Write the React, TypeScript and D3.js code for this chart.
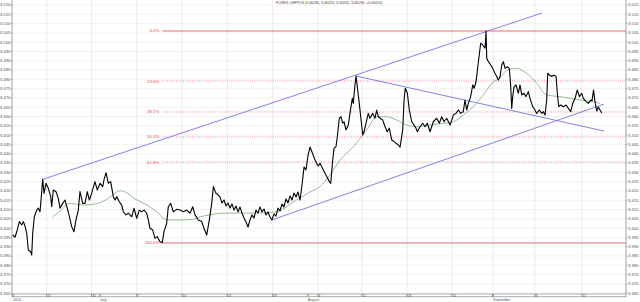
import React from 'react';
import * as d3 from 'd3';

// ---- data (x in trading days from Mon 23 Jun 2014, y in CHF/PLN) ----
const price: [number, number][] = [
  [-3.81,3.3963],[-3.55,3.3951],[-3.30,3.3990],[-3.07,3.4035],[-2.80,3.4017],[-2.62,3.4035],[-2.43,3.4011],[-2.24,3.3972],[-2.06,3.3882],[-1.79,3.3873],[-1.68,3.3855],[-1.57,3.3972],[-1.39,3.4061],[-1.12,3.4097],[-0.94,3.4107],[-0.75,3.4088],[-0.56,3.4196],[-0.45,3.4262],[-0.30,3.4187],[-0.08,3.4241],[0.18,3.4214],[0.45,3.4169],[0.56,3.4115],[0.74,3.4205],[1.04,3.4196],[1.30,3.4160],[1.49,3.4107],[1.79,3.4133],[2.05,3.4151],[2.42,3.4088],[2.80,3.4008],[3.06,3.3981],[3.28,3.4044],[3.54,3.4097],[3.73,3.4196],[4.04,3.4133],[4.29,3.4133],[4.55,3.4196],[4.78,3.4151],[5.04,3.4187],[5.41,3.4250],[5.67,3.4205],[5.98,3.4241],[6.28,3.4223],[6.42,3.4259],[6.65,3.4298],[6.91,3.4241],[7.17,3.4250],[7.47,3.4169],[7.66,3.4151],[7.85,3.4169],[8.14,3.4142],[8.41,3.4124],[8.59,3.4088],[8.89,3.4071],[9.15,3.4080],[9.53,3.4061],[9.79,3.4107],[10.09,3.4053],[10.38,3.4097],[10.65,3.4088],[10.91,3.4097],[11.21,3.4080],[11.39,3.4044],[11.58,3.3999],[11.88,3.3990],[12.14,3.3945],[12.40,3.3954],[12.70,3.3927],[12.96,3.3922],[13.15,3.3981],[13.45,3.4026],[13.63,3.4115],[13.90,3.4133],[14.19,3.4088],[14.57,3.4101],[14.94,3.4097],[15.31,3.4088],[15.70,3.4097],[16.07,3.4080],[16.37,3.4115],[16.63,3.4071],[17.00,3.4044],[17.38,3.4035],[17.63,3.3999],[17.94,3.3963],[18.23,3.4044],[18.50,3.4133],[18.68,3.4223],[18.98,3.4187],[19.24,3.4178],
  [19.43,3.4167],[19.65,3.4135],[19.88,3.4151],[20.10,3.4119],[20.32,3.4135],[20.55,3.4108],[20.77,3.4130],[21.00,3.4097],[21.22,3.4119],[21.45,3.4087],[21.67,3.4114],[21.89,3.4081],[22.12,3.4054],[22.34,3.4033],[22.57,3.4006],[22.79,3.4044],[23.01,3.4071],[23.24,3.4054],[23.46,3.4097],[23.69,3.4081],[23.91,3.4114],[24.13,3.4087],[24.36,3.4103],[24.58,3.4071],[24.81,3.4087],[25.03,3.4060],[25.25,3.4044],[25.48,3.4076],[25.70,3.4065],[25.93,3.4108],[26.15,3.4092],[26.38,3.4130],[26.60,3.4114],[26.83,3.4157],[27.05,3.4135],[27.28,3.4173],[27.50,3.4151],[27.72,3.4189],[27.95,3.4167],[28.17,3.4194],[28.40,3.4151],[28.62,3.4232],[28.85,3.4329],[29.07,3.4313],[29.30,3.4393],[29.52,3.4436],[29.74,3.4409],[30.08,3.4366],[30.42,3.4334],
  [30.64,3.4349],[31.01,3.4313],[31.39,3.4277],[31.68,3.4250],[31.84,3.4241],[32.06,3.4366],[32.21,3.4429],[32.43,3.4438],[32.58,3.4492],[32.80,3.4591],[32.99,3.4599],[33.18,3.4564],[33.33,3.4572],[33.55,3.4528],[33.81,3.4554],[34.08,3.4644],[34.26,3.4698],[34.37,3.4671],[34.56,3.4770],[34.68,3.4818],[34.82,3.4760],[35.04,3.4671],[35.20,3.4599],[35.43,3.4501],[35.57,3.4518],[35.80,3.4564],[36.05,3.4617],[36.24,3.4591],[36.55,3.4617],[36.80,3.4591],[36.99,3.4635],[37.17,3.4599],[37.37,3.4591],[37.67,3.4581],[37.93,3.4545],[38.18,3.4518],[38.41,3.4537],[38.68,3.4474],[38.94,3.4465],[39.16,3.4456],[39.42,3.4447],[39.61,3.4435],[39.91,3.4528],[40.06,3.4689],[40.20,3.4752],[40.43,3.4725],[40.65,3.4635],[40.92,3.4572],[41.18,3.4554],[41.40,3.4537],[41.55,3.4518],[41.85,3.4545],[42.15,3.4564],[42.41,3.4545],[42.67,3.4564],[42.97,3.4518],[43.34,3.4572],[43.72,3.4591],[44.01,3.4564],[44.28,3.4599],[44.54,3.4572],[44.84,3.4591],[45.21,3.4554],[45.40,3.4581],[45.58,3.4608],[45.88,3.4617],[46.14,3.4635],[46.41,3.4617],[46.70,3.4626],[46.89,3.4689],[47.08,3.4635],[47.26,3.4671],[47.53,3.4707],[47.76,3.4770],[47.91,3.4752],[48.13,3.4787],[48.39,3.4893],[48.65,3.4994],[48.88,3.4985],[49.14,3.4967],[49.25,3.5060],[49.33,3.4913],[49.51,3.4895],[49.78,3.4877],[50.00,3.4859],[50.26,3.4832],[50.45,3.4815],[50.63,3.4796],[50.82,3.4815],[51.01,3.4877],[51.19,3.4895],[51.38,3.4859],[51.64,3.4868],[51.86,3.4859],[52.02,3.4760],[52.13,3.4644],[52.24,3.4707],[52.39,3.4760],[52.61,3.4770],[52.87,3.4725],[53.06,3.4770],[53.25,3.4716],[53.51,3.4725],[53.73,3.4707],[53.99,3.4734],[54.18,3.4698],[54.48,3.4653],[54.74,3.4635],[54.93,3.4617],[55.22,3.4635],[55.49,3.4617],[55.67,3.4626],[55.86,3.4608],[56.05,3.4689],[56.17,3.4833],[56.35,3.4823],[56.61,3.4815],[56.87,3.4823],[57.10,3.4815],[57.24,3.4725],[57.40,3.4653],[57.62,3.4662],[57.91,3.4653],[58.22,3.4662],[58.48,3.4644],[58.74,3.4626],[58.97,3.4671],[59.23,3.4698],[59.48,3.4743],[59.71,3.4707],[59.98,3.4725],[60.16,3.4698],[60.46,3.4680],[60.72,3.4671],[60.99,3.4689],[61.13,3.4684],[61.30,3.4743],[61.47,3.4678],[61.66,3.4630],[61.84,3.4651],[62.03,3.4635],[62.22,3.4619]
];

const movingAvg: [number, number][] = [
  [0.67,3.4061],[1.49,3.4092],[2.61,3.4133],[4.10,3.4124],[5.98,3.4137],[7.10,3.4167],[8.22,3.4201],[9.00,3.4189],[9.90,3.4157],[11.02,3.4130],[12.33,3.4088],[13.45,3.4044],[14.94,3.4044],[16.43,3.4047],[17.19,3.4061],[18.31,3.4071],[19.43,3.4080],[21.67,3.4081],[23.91,3.4081],[25.59,3.4087],[26.71,3.4108],[27.61,3.4140],[28.40,3.4162],[29.52,3.4194],[30.64,3.4223],[31.76,3.4286],[32.88,3.4366],[34.37,3.4438],[35.87,3.4528],[36.99,3.4599],[38.12,3.4599],[39.24,3.4581],[40.36,3.4554],[41.48,3.4545],[42.97,3.4554],[44.46,3.4564],[45.58,3.4572],[46.70,3.4608],[47.82,3.4653],[48.95,3.4716],[50.07,3.4787],[50.82,3.4806],[51.57,3.4850],[52.69,3.4859],[53.81,3.4832],[54.93,3.4779],[56.05,3.4716],[57.54,3.4707],[58.66,3.4698],[59.79,3.4689],[61.28,3.4680],[62.03,3.4671]
];

const trendUpper: [number, number][] = [[-0.53, 3.4261], [55.53, 3.5157]];
const trendLower: [number, number][] = [[25.25, 3.4044], [62.48, 3.4667]];
const trendDown: [number, number][] = [[34.68, 3.4818], [62.48, 3.4522]];

const fibHigh = 3.506;
const fibLow = 3.392;
const fibStartDay = 12.96;
const fibLevels = [0, 0.236, 0.382, 0.5, 0.618, 1];
const fibLabels = ['0.0%', '23.6%', '38.2%', '50.0%', '61.8%', '100.0%'];

const yTickValues = d3.range(0, 32).map((i) => +(3.365 + i * 0.005).toFixed(3));
const weekDays = [0, 5.04, 10.09, 15.17, 20.25, 25.34, 30.42, 35.35, 40.40, 45.42, 50.03, 54.74, 60.01];
const weekLabels = ['23', '30', '7', '14', '21', '28', '4', '11', '18', '25', '', '8', '15'];
const monthDays = [-3.78, 5.98, 29.29, 50.03];
const monthLabels = ['2014', 'July', 'August', 'September'];
const title = 'FOREX CHFPLN (3.46180, 3.46420, 3.45650, 3.46190, +0.00010)';

const xDomain: [number, number] = [-3.89, 64.94];
const yDomain: [number, number] = [3.36457, 3.52267];

export default function App() {
  const left = 12, right = 626, top = 0, bottom = 294;
  const x = d3.scaleLinear().domain(xDomain).range([left, right]);
  const y = d3.scaleLinear().domain(yDomain).range([bottom, top]);
  const line = d3.line<[number, number]>().x((d) => x(d[0])).y((d) => y(d[1]));
  const smooth = d3.line<[number, number]>().x((d) => x(d[0])).y((d) => y(d[1])).curve(d3.curveMonotoneX);
  const fmt = d3.format('.3f');
  const font = 'Liberation Sans, Arial, sans-serif';
  const range = fibHigh - fibLow;

  return (
    <svg width={640} height={302} style={{ position: 'absolute', left: 0, top: 0, background: '#fff' }} fontFamily={font}>
      <defs>
        <clipPath id="plot">
          <rect x={left} y={top} width={right - left} height={bottom - top} />
        </clipPath>
      </defs>
      {/* grid */}
      {yTickValues.map((v) => (
        <line key={'hg' + v} x1={left} x2={right} y1={y(v)} y2={y(v)} stroke="#ececec" strokeWidth={0.7} />
      ))}
      {weekDays.map((d) => (
        <line key={'vg' + d} x1={x(d)} x2={x(d)} y1={top} y2={bottom} stroke="#e6e6e6" strokeWidth={0.8} />
      ))}
      {/* axes */}
      <line x1={left} x2={left} y1={top} y2={bottom} stroke="#8a8a8a" strokeWidth={0.8} />
      <line x1={right} x2={right} y1={top} y2={bottom} stroke="#8a8a8a" strokeWidth={0.8} />
      {yTickValues.map((v) => (
        <g key={'yt' + v}>
          <line x1={left - 1.5} x2={left} y1={y(v)} y2={y(v)} stroke="#888" strokeWidth={0.6} />
          <line x1={right} x2={right + 1.5} y1={y(v)} y2={y(v)} stroke="#888" strokeWidth={0.6} />
          <text x={left - 1.5} y={y(v) + 1.4} fontSize={4.3} textAnchor="end" fill="#555">{fmt(v)}</text>
          <text x={right + 2} y={y(v) + 1.4} fontSize={4.3} fill="#555">{fmt(v)}</text>
        </g>
      ))}
      {/* bottom time bar */}
      <rect x={left} y={bottom} width={right - left} height={2.8} fill="#fff" stroke="#777" strokeWidth={0.6} />
      {weekDays.map((d, i) => (
        <g key={'wt' + d}>
          <line x1={x(d)} x2={x(d)} y1={bottom} y2={bottom + 2.8} stroke="#555" strokeWidth={0.7} />
          <text x={x(d) + 0.8} y={bottom + 2.5} fontSize={2.8} fill="#444">{weekLabels[i]}</text>
        </g>
      ))}
      {monthDays.map((d, i) => (
        <g key={'mt' + d}>
          <line x1={x(d)} x2={x(d)} y1={bottom} y2={bottom + 2.8} stroke="#555" strokeWidth={0.7} />
          <text x={x(d)} y={bottom + 6.8} fontSize={3.6} fill="#555">{monthLabels[i]}</text>
        </g>
      ))}
      {/* title */}
      <text x={276} y={4} fontSize={3.6} fill="#444">{title}</text>

      <g clipPath="url(#plot)">
        {/* fibonacci */}
        {fibLevels.map((lv, i) => {
          const v = fibHigh - lv * range;
          const solid = lv === 0 || lv === 1;
          return (
            <g key={'fib' + lv}>
              <line x1={x(fibStartDay)} x2={right} y1={y(v)} y2={y(v)} stroke={solid ? '#ee5560' : '#f08088'}
                strokeWidth={solid ? 0.9 : 0.9} strokeDasharray={solid ? undefined : '1,1.3'} />
              <text x={x(fibStartDay) - 3} y={y(v) + 1.5} fontSize={4.3} textAnchor="end" fill="#e8404c">{fibLabels[i]}</text>
            </g>
          );
        })}
        {/* trend lines */}
        {[trendUpper, trendLower, trendDown].map((t, i) => (
          <path key={'tr' + i} d={line(t) || ''} fill="none" stroke="#7474e6" strokeWidth={0.9} />
        ))}
        {/* moving average */}
        <path d={smooth(movingAvg) || ''} fill="none" stroke="#7aac7a" strokeWidth={0.8} />
        {/* price */}
        <path d={line(price) || ''} fill="none" stroke="#000" strokeWidth={1.1} strokeLinejoin="round" />
      </g>
    </svg>
  );
}
